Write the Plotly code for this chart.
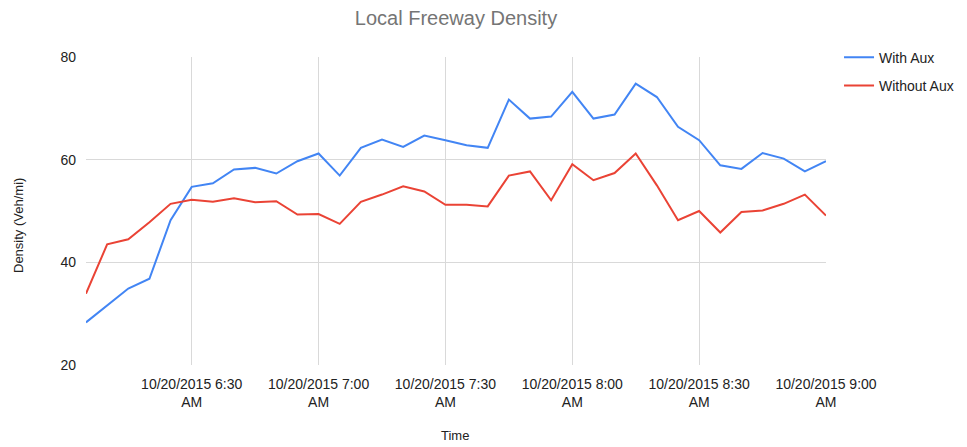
import pandas as pd
import plotly.graph_objects as go

# Five-minute samples, 6:05 AM to 9:00 AM on 10/20/2015
times = pd.date_range("2015-10-20 06:05", "2015-10-20 09:00", freq="5min")

with_aux = [
    28.3, 31.6, 34.9, 36.8, 48.2, 54.7, 55.4, 58.1, 58.4, 57.3, 59.7, 61.2,
    56.9, 62.3, 63.9, 62.5, 64.7, 63.8, 62.8, 62.3, 71.7, 68.0, 68.4, 73.2,
    68.0, 68.8, 74.8, 72.2, 66.4, 63.8, 58.9, 58.2, 61.3, 60.2, 57.7, 59.7,
]
without_aux = [
    33.9, 43.5, 44.5, 47.8, 51.4, 52.2, 51.8, 52.5, 51.7, 51.9, 49.3, 49.4,
    47.5, 51.8, 53.2, 54.8, 53.8, 51.2, 51.2, 50.9, 56.9, 57.7, 52.1, 59.1,
    56.0, 57.4, 61.2, 55.0, 48.2, 50.0, 45.8, 49.8, 50.1, 51.4, 53.2, 49.1,
]

tick_times = pd.to_datetime([
    "2015-10-20 06:30", "2015-10-20 07:00", "2015-10-20 07:30",
    "2015-10-20 08:00", "2015-10-20 08:30", "2015-10-20 09:00",
])
tick_labels = [
    "10/20/2015 6:30<br>AM", "10/20/2015 7:00<br>AM", "10/20/2015 7:30<br>AM",
    "10/20/2015 8:00<br>AM", "10/20/2015 8:30<br>AM", "10/20/2015 9:00<br>AM",
]
y_ticks = [20, 40, 60, 80]

FONT = "Liberation Sans, Arial, sans-serif"
TEXT = "#222222"
W, H = 967, 447
L, R, T, B = 86, 141, 57, 82
PW, PH = W - L - R, H - T - B

fig = go.Figure()
fig.add_trace(go.Scatter(
    x=times, y=with_aux, name="With Aux", mode="lines",
    line=dict(color="#4285F4", width=2), legendgroup="a",
))
fig.add_trace(go.Scatter(
    x=times, y=without_aux, name="Without Aux", mode="lines",
    line=dict(color="#EA4335", width=2), legendgroup="b",
))

fig.update_layout(
    width=W, height=H,
    margin=dict(l=L, r=R, t=T, b=B, autoexpand=False),
    paper_bgcolor="white", plot_bgcolor="white",
    font=dict(family=FONT, size=13, color=TEXT),
    title=dict(
        text="Local Freeway Density",
        x=(L + (W - R)) / 2 / W, xanchor="center",
        y=1 - 18 / H, yanchor="middle",
        font=dict(family=FONT, size=20, color="#757575"),
    ),
    legend=dict(
        x=1.0176, xanchor="left", y=1.05, yanchor="top",
        traceorder="grouped", tracegroupgap=7,
        font=dict(family=FONT, size=14, color=TEXT),
        itemwidth=30,
    ),
    xaxis=dict(
        range=[times[0], times[-1]],
        tickvals=tick_times, ticktext=tick_labels,
        showgrid=True, gridcolor="#d9d9d9", gridwidth=1,
        zeroline=False, showline=False, ticks="",
        ticklabelstandoff=9, automargin=False,
        tickfont=dict(size=14, color=TEXT),
    ),
    yaxis=dict(
        range=[20, 80], tickvals=y_ticks,
        showgrid=True, gridcolor="#d9d9d9", gridwidth=1,
        zeroline=False, showline=False, ticks="",
        ticklabelstandoff=9, automargin=False,
        tickfont=dict(size=14, color=TEXT),
    ),
    annotations=[
        dict(
            text="Density (Veh/mi)", textangle=-90,
            xref="paper", yref="paper",
            x=(18 - L) / PW, y=1 - (226 - T) / PH,
            xanchor="center", yanchor="middle", showarrow=False,
            font=dict(family=FONT, size=13, color=TEXT),
        ),
        dict(
            text="Time",
            xref="paper", yref="paper",
            x=(455 - L) / PW, y=1 - (435 - T) / PH,
            xanchor="center", yanchor="middle", showarrow=False,
            font=dict(family=FONT, size=13, color=TEXT),
        ),
    ],
    showlegend=True,
)

fig.write_html("out.html")
